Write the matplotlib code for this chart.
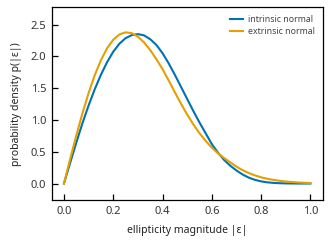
import matplotlib
matplotlib.use("Agg")
import matplotlib.pyplot as plt

# ellipticity grid (at 0.025 steps)
e_vals = [i * 0.025 for i in range(41)]

intrinsic = [0.0, 0.324, 0.643, 0.948, 1.228, 1.484, 1.711, 1.909, 2.073, 2.199,
             2.286, 2.334, 2.35, 2.33, 2.27, 2.18, 2.05, 1.89, 1.71, 1.52,
             1.33, 1.14, 0.96, 0.79, 0.62, 0.485, 0.37, 0.28, 0.205, 0.142,
             0.093, 0.058, 0.034, 0.019, 0.01, 0.005, 0.002, 0.001, 0.0, 0.0, 0.0]

extrinsic = [0.0, 0.383, 0.754, 1.105, 1.424, 1.705, 1.94, 2.127, 2.261, 2.345,
             2.378, 2.365, 2.31, 2.219, 2.099, 1.956, 1.80, 1.62, 1.435, 1.255,
             1.085, 0.93, 0.79, 0.67, 0.565, 0.475, 0.40, 0.333, 0.265, 0.21,
             0.165, 0.128, 0.098, 0.075, 0.057, 0.043, 0.032, 0.024, 0.017, 0.012, 0.008]

labels = ["intrinsic normal", "extrinsic normal"]
colors = ["#0072B2", "#E69F00"]

plt.rcParams["font.family"] = ["Noto Sans", "DejaVu Sans"]

fig = plt.figure(figsize=(3.31, 2.47), dpi=100)
ax = fig.add_axes([0.156, 0.19, 0.819, 0.78])

ax.plot(e_vals, intrinsic, color=colors[0], lw=1.5, label=labels[0])
ax.plot(e_vals, extrinsic, color=colors[1], lw=1.5, label=labels[1])

ax.set_xlim(-0.05, 1.05)
ax.set_ylim(-0.26, 2.77)
ax.set_xticks([0.0, 0.2, 0.4, 0.6, 0.8, 1.0])
ax.set_yticks([0.0, 0.5, 1.0, 1.5, 2.0, 2.5])
ax.tick_params(direction="in", length=4.5, width=0.9, labelsize=8,
               labelcolor="#333333", pad=4)
for s in ax.spines.values():
    s.set_linewidth(0.9)

ax.set_xlabel("ellipticity magnitude |ε|", fontsize=7.5, color="#222222", labelpad=6)
ax.set_ylabel("probability density p(|ε|)", fontsize=7.5, color="#222222", labelpad=6)

leg = ax.legend(loc="upper right", frameon=False, fontsize=6.3, handlelength=1.5,
                handletextpad=0.6, borderaxespad=0.5, labelspacing=0.35)
for t in leg.get_texts():
    t.set_color("#444444")

fig.savefig("out.png", dpi=100)
